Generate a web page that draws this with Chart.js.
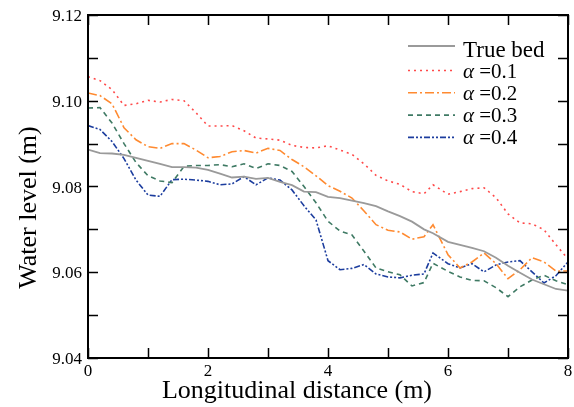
<!DOCTYPE html>
<html>
<head>
<meta charset="utf-8">
<script src="https://cdn.jsdelivr.net/npm/chart.js@4.4.1/dist/chart.umd.min.js"></script>
<style>
  html, body { margin: 0; padding: 0; background: #fff; }
  #wrap { width: 574px; height: 407px; }
</style>
</head>
<body>
<div id="wrap"><canvas id="chart" width="574" height="407"></canvas></div>
<script>
// distance along the channel (m)
const distance = [0, 0.2, 0.4, 0.6, 0.8, 1.0, 1.2, 1.4, 1.6, 1.8, 2.0, 2.2, 2.4, 2.6, 2.8, 3.0,
  3.2, 3.4, 3.6, 3.8, 4.0, 4.2, 4.4, 4.6, 4.8, 5.0, 5.2, 5.4, 5.6, 5.75, 6.0,
  6.2, 6.4, 6.6, 6.8, 7.0, 7.2, 7.4, 7.6, 7.8, 8.0];

const trueBed = [9.0886, 9.0878, 9.0877, 9.0874, 9.0867, 9.0860, 9.0853, 9.0845, 9.0845, 9.0844,
  9.0839, 9.0830, 9.0821, 9.0823, 9.0818, 9.0820, 9.0811, 9.0803, 9.0788, 9.0787,
  9.0776, 9.0773, 9.0767, 9.0761, 9.0754, 9.0742, 9.0731, 9.0718, 9.0700, 9.0691,
  9.0671, 9.0664, 9.0657, 9.0649, 9.0634, 9.0615, 9.0599, 9.0583, 9.0572, 9.0561, 9.0557];

const alpha01 = [9.1056, 9.1047, 9.1026, 9.0989, 9.0993, 9.1001, 9.0997, 9.1003, 9.1000, 9.0972,
  9.0941, 9.0941, 9.0942, 9.0930, 9.0913, 9.0911, 9.0908, 9.0896, 9.0891, 9.0890,
  9.0895, 9.0885, 9.0875, 9.0853, 9.0826, 9.0813, 9.0805, 9.0788, 9.0783, 9.0804,
  9.0782, 9.0788, 9.0795, 9.0797, 9.0774, 9.0736, 9.0715, 9.0713, 9.0699, 9.0664, 9.0631];

const alpha02 = [9.1018, 9.1012, 9.0993, 9.0937, 9.0909, 9.0893, 9.0889, 9.0900, 9.0900, 9.0885,
  9.0867, 9.0870, 9.0881, 9.0884, 9.0878, 9.0889, 9.0884, 9.0863, 9.0846, 9.0825,
  9.0802, 9.0789, 9.0773, 9.0743, 9.0711, 9.0698, 9.0694, 9.0677, 9.0683, 9.0711,
  9.0641, 9.0610, 9.0624, 9.0645, 9.0620, 9.0585, 9.0606, 9.0634, 9.0624, 9.0603, 9.0603];

const alpha03 = [9.0983, 9.0984, 9.0948, 9.0900, 9.0856, 9.0825, 9.0813, 9.0809, 9.0847, 9.0849,
  9.0849, 9.0851, 9.0846, 9.0853, 9.0842, 9.0853, 9.0849, 9.0835, 9.0800, 9.0762,
  9.0719, 9.0696, 9.0687, 9.0649, 9.0610, 9.0601, 9.0594, 9.0568, 9.0576, 9.0621,
  9.0602, 9.0589, 9.0581, 9.0580, 9.0564, 9.0543, 9.0566, 9.0582, 9.0593, 9.0580, 9.0571];

const alpha04 = [9.0942, 9.0933, 9.0905, 9.0865, 9.0815, 9.0780, 9.0777, 9.0816, 9.0817, 9.0815,
  9.0812, 9.0804, 9.0806, 9.0823, 9.0804, 9.0820, 9.0815, 9.0792, 9.0755, 9.0722,
  9.0627, 9.0606, 9.0609, 9.0618, 9.0596, 9.0589, 9.0587, 9.0593, 9.0596, 9.0645,
  9.0620, 9.0610, 9.0620, 9.0601, 9.0617, 9.0624, 9.0627, 9.0601, 9.0575, 9.0592, 9.0624];

const seriesNames = ['True bed', '\u03b1 =0.1', '\u03b1 =0.2', '\u03b1 =0.3', '\u03b1 =0.4'];

const xTickValues = [0, 1, 2, 3, 4, 5, 6, 7, 8];
const xTickLabels = ['0', '', '2', '', '4', '', '6', '', '8'];
const yTickValues = [9.04, 9.05, 9.06, 9.07, 9.08, 9.09, 9.10, 9.11, 9.12];
const yTickLabels = ['9.04', '', '9.06', '', '9.08', '', '9.10', '', '9.12'];

const SERIF = '"Liberation Serif", "Times New Roman", serif';

function toPoints(values) {
  return values.map(function(v, i) { return { x: distance[i], y: v }; });
}

// 边框、内侧刻度、刻度文字、图例、轴标题
const framePlugin = {
  id: 'frame',
  afterDatasetsDraw(chart) {
    const ctx = chart.ctx;
    const a = chart.chartArea;
    const xs = chart.scales.x;
    const ys = chart.scales.y;
    const tick = 10;

    ctx.save();
    ctx.strokeStyle = '#000';
    ctx.lineWidth = 1.5;
    ctx.setLineDash([]);
    ctx.beginPath();
    xTickValues.forEach(function(v) {
      const px = Math.round(xs.getPixelForValue(v)) + 0.5;
      ctx.moveTo(px, a.bottom); ctx.lineTo(px, a.bottom - tick);
      ctx.moveTo(px, a.top); ctx.lineTo(px, a.top + tick);
    });
    yTickValues.forEach(function(v) {
      const py = Math.round(ys.getPixelForValue(v)) + 0.5;
      ctx.moveTo(a.left, py); ctx.lineTo(a.left + tick, py);
      ctx.moveTo(a.right, py); ctx.lineTo(a.right - tick, py);
    });
    ctx.stroke();

    ctx.lineWidth = 2;
    ctx.strokeRect(a.left, a.top, a.right - a.left, a.bottom - a.top);

    // tick labels
    ctx.fillStyle = '#000';
    ctx.font = '17px ' + SERIF;
    ctx.textBaseline = 'alphabetic';
    ctx.textAlign = 'center';
    xTickValues.forEach(function(v, i) {
      if (xTickLabels[i]) ctx.fillText(xTickLabels[i], xs.getPixelForValue(v), a.bottom + 18);
    });
    ctx.textAlign = 'right';
    yTickValues.forEach(function(v, i) {
      if (yTickLabels[i]) ctx.fillText(yTickLabels[i], a.left - 6, ys.getPixelForValue(v) + 6);
    });

    // legend
    const datasets = chart.data.datasets;
    const lx0 = 408, lx1 = 455, tx = 463;
    datasets.forEach(function(ds, i) {
      const ly = i === 0 ? 46 : 70.5 + (i - 1) * 22.3;
      ctx.strokeStyle = ds.borderColor;
      ctx.lineWidth = ds.borderWidth;
      ctx.setLineDash(ds.borderDash || []);
      ctx.beginPath();
      ctx.moveTo(lx0, ly);
      ctx.lineTo(lx1, ly);
      ctx.stroke();
      ctx.setLineDash([]);
      ctx.fillStyle = '#000';
      ctx.textAlign = 'left';
      ctx.textBaseline = 'alphabetic';
      if (i === 0) {
        ctx.font = '23px ' + SERIF;
        ctx.fillText(ds.label, tx, ly + 10.7);
      } else {
        ctx.font = 'italic 21px ' + SERIF;
        ctx.fillText(ds.label.charAt(0), tx, ly + 7);
        const w = ctx.measureText(ds.label.charAt(0)).width;
        ctx.font = '21px ' + SERIF;
        ctx.fillText(ds.label.slice(1), tx + w, ly + 7);
      }
    });

    // axis titles
    ctx.fillStyle = '#000';
    ctx.font = '26px ' + SERIF;
    ctx.textAlign = 'center';
    ctx.textBaseline = 'alphabetic';
    ctx.fillText('Longitudinal distance (m)', 297, 398);
    ctx.translate(36, 207.5);
    ctx.rotate(-Math.PI / 2);
    ctx.fillText('Water level (m)', 0, 0);
    ctx.restore();
  }
};

const datasets = [
  { label: seriesNames[0], data: toPoints(trueBed), borderColor: '#9a9a9a', borderWidth: 1.8, borderDash: [] },
  { label: seriesNames[1], data: toPoints(alpha01), borderColor: '#ff4a4a', borderWidth: 1.6, borderDash: [2, 4] },
  { label: seriesNames[2], data: toPoints(alpha02), borderColor: '#ff8a30', borderWidth: 1.6, borderDash: [9, 3, 2, 3] },
  { label: seriesNames[3], data: toPoints(alpha03), borderColor: '#3f7a64', borderWidth: 1.6, borderDash: [5, 4] },
  { label: seriesNames[4], data: toPoints(alpha04), borderColor: '#1c3d9e', borderWidth: 1.6, borderDash: [6, 2, 2, 2, 2, 2] }
];

new Chart(document.getElementById('chart'), {
  type: 'line',
  data: { datasets: datasets },
  options: {
    responsive: false,
    animation: false,
    events: [],
    layout: { padding: { top: 15, right: 6, left: 0, bottom: 0 } },
    elements: {
      point: { radius: 0 },
      line: { tension: 0, fill: false }
    },
    plugins: {
      legend: { display: false },
      tooltip: { enabled: false }
    },
    scales: {
      x: {
        type: 'linear',
        min: 0,
        max: 8,
        afterFit: function(scale) { scale.height = 49; },
        grid: { display: false },
        border: { display: false },
        ticks: { display: false, stepSize: 1 }
      },
      y: {
        type: 'linear',
        min: 9.04,
        max: 9.12,
        afterFit: function(scale) { scale.width = 88; },
        grid: { display: false },
        border: { display: false },
        ticks: { display: false, stepSize: 0.01 }
      }
    }
  },
  plugins: [framePlugin]
});
</script>
</body>
</html>
